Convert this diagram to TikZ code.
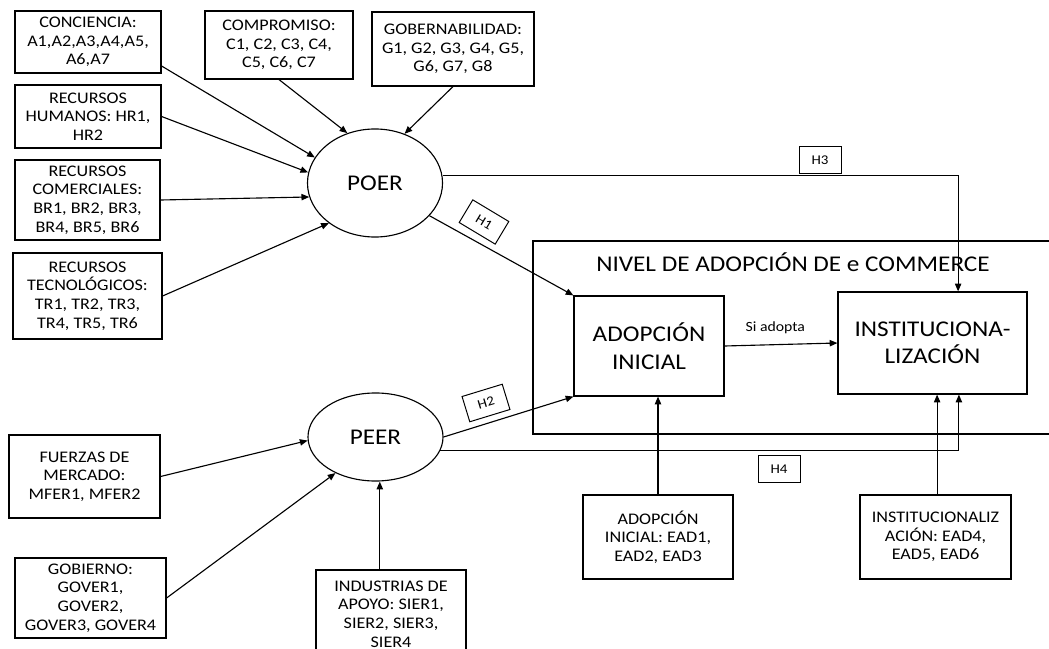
\documentclass[tikz,border=0pt]{standalone}
\usepackage{fontspec}
\setmainfont{Carlito}[FakeStretch=1.12]
\usetikzlibrary{arrows.meta,shapes.geometric}

\begin{document}
\begin{tikzpicture}[x=0.025cm, y=-0.025cm, >={Triangle[length=5.5pt,width=4.5pt]},
	caja/.style={draw, line width=0.8pt, align=center, inner sep=1pt, font=\fontsize{11.5}{13.2}\selectfont},
	ovalo/.style={draw, ellipse, line width=0.8pt, inner sep=0pt, font=\fontsize{16}{19.5}\selectfont},
	etapa/.style={draw, line width=0.8pt, align=center, font=\fontsize{16}{19.5}\selectfont},
	hip/.style={draw, line width=0.7pt, minimum width=1.05cm, minimum height=0.66cm, inner sep=0pt, font=\fontsize{9.5}{11}\selectfont},
	flecha/.style={->, line width=0.8pt}]
	\useasboundingbox (0,0) rectangle (1049,649);
	
	% Factores organizacionales
	\node[caja, minimum width=3.65cm, minimum height=1.55cm] (conc) at (88,42) {CONCIENCIA:\\A1,A2,A3,A4,A5,\\A6,A7};
	\node[caja, minimum width=3.65cm, minimum height=1.575cm] (huma) at (88,116.5) {RECURSOS\\HUMANOS: HR1,\\HR2};
	\node[caja, minimum width=3.625cm, minimum height=2cm] (come) at (87.5,200) {RECURSOS\\COMERCIALES:\\BR1, BR2, BR3,\\BR4, BR5, BR6};
	\node[caja, minimum width=3.725cm, minimum height=2.15cm] (tecn) at (87.5,296) {RECURSOS\\TECNOLÓGICOS:\\TR1, TR2, TR3,\\TR4, TR5, TR6};
	\node[caja, minimum width=3.7cm, minimum height=1.7cm] (comp) at (279,45) {COMPROMISO:\\C1, C2, C3, C4,\\C5, C6, C7};
	\node[caja, minimum width=4.05cm, minimum height=1.85cm] (gobe) at (453,49) {GOBERNABILIDAD:\\G1, G2, G3, G4, G5,\\G6, G7, G8};
	\node[ovalo, minimum width=3.375cm, minimum height=2.7cm] (poer) at (375,183) {POER};
	
	% Factores del entorno
	\node[ovalo, minimum width=3.375cm, minimum height=2.2cm] (peer) at (375.5,437) {PEER};
	\node[caja, minimum width=3.775cm, minimum height=2.075cm] (fuer) at (84.5,476.5) {FUERZAS DE\\MERCADO:\\MFER1, MFER2};
	\node[caja, minimum width=3.775cm, minimum height=2cm] (gobi) at (90.5,598) {GOBIERNO:\\GOVER1,\\GOVER2,\\GOVER3, GOVER4};
	\node[caja, minimum width=3.75cm, minimum height=2.2cm] (indu) at (391,614) {INDUSTRIAS DE\\APOYO: SIER1,\\SIER2, SIER3,\\SIER4};
	
	% Nivel de adopcion
	\node[draw, line width=0.8pt, minimum width=13.175cm, minimum height=4.825cm] (nivel) at (796.5,337.5) {};
	\node[font=\fontsize{16}{19.5}\selectfont] (titulo) at (793,262) {NIVEL DE ADOPCIÓN DE e COMMERCE};
	\node[etapa, minimum width=3.75cm, minimum height=2.5cm] (adop) at (649,346) {ADOPCIÓN\\INICIAL};
	\node[etapa, minimum width=4.725cm, minimum height=2.55cm] (inst) at (932.5,343) {INSTITUCIONA-\\LIZACIÓN};
	\node[caja, minimum width=3.75cm, minimum height=2.1cm] (eadA) at (658,537) {ADOPCIÓN\\INICIAL: EAD1,\\EAD2, EAD3};
	\node[caja, minimum width=3.775cm, minimum height=2.1cm] (eadI) at (935.5,537) {INSTITUCIONALIZ\\ACIÓN: EAD4,\\EAD5, EAD6};
	
	% Hipotesis
	\node[hip, rotate=-31] (h1) at (484,222) {H1};
	\node[hip, rotate=17] (h2) at (486,403) {H2};
	\node[hip] (h3) at (820,160) {H3};
	\node[hip] (h4) at (779,469) {H4};
	
	% Flechas
	\draw[flecha] ([yshift=-0.6cm]conc.east) -- (poer.157);
	\draw[flecha] (huma.east) -- (poer.171);
	\draw[flecha] (come.east) -- (poer.192);
	\draw[flecha] (tecn.east) -- (poer.221);
	\draw[flecha] (comp.south) -- (poer.119);
	\draw[flecha] (gobe.south) -- (poer.59);
	\draw[flecha] (poer.-31) -- (adop.north west);
	\draw[flecha] (poer.6) -| ([xshift=0.64cm]inst.north);
	\draw[flecha] (fuer.east) -- (peer.183);
	\draw[flecha] (gobi.east) -- (peer.222);
	\draw[flecha] ([xshift=-0.28cm]indu.north) -- ([xshift=-0.28cm]indu.north |- peer.south);
	\draw[flecha] (peer.east) -- (adop.south west);
	\draw[flecha] (peer.-12) -| ([xshift=0.66cm]inst.south);
	\draw[flecha] (adop.east) -- node[above=4pt, pos=0.45, font=\fontsize{10}{12}\selectfont] {Si adopta} (inst.west);
	\draw[flecha] (eadA.north) -- (eadA.north |- adop.south);
	\draw[flecha] ([xshift=0.04cm]eadI.north) -- ([xshift=0.04cm]eadI.north |- inst.south);
\end{tikzpicture}
\end{document}
